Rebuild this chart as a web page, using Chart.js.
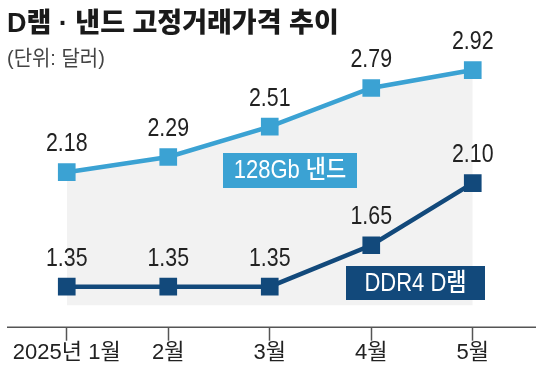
<!DOCTYPE html>
<html>
<script src="https://cdn.jsdelivr.net/npm/chart.js@4.4.1/dist/chart.umd.min.js"></script>
<body style="margin:0;background:#fff">

<canvas id="myChart" width="536" height="371"></canvas>

<script>
    const months = ["2025년 1월", "2월", "3월", "4월", "5월"];
    const nandPrices = [2.18, 2.29, 2.51, 2.79, 2.92];
    const dramPrices = [1.35, 1.35, 1.35, 1.65, 2.10];

    const nandColor = "#3ba2d3";
    const dramColor = "#12497b";
    const numFont = '"Liberation Sans", sans-serif';
    const krFont = '"Liberation Sans", "Noto Sans CJK KR", sans-serif';

    // draw text squeezed horizontally (the original uses a condensed face)
    function narrowText(ctx, text, x, y, sx) {
        ctx.save();
        ctx.translate(x, y);
        ctx.scale(sx, 1);
        ctx.fillText(text, 0, 0);
        ctx.restore();
    }

    // title, value labels, series tags and the long axis line
    const decor = {
        id: "decor",
        beforeDraw(chart) {
            const ctx = chart.ctx;
            const x = chart.scales.x;
            ctx.save();
            ctx.strokeStyle = "#555";
            ctx.lineWidth = 1.5;
            ctx.beginPath();
            ctx.moveTo(7, x.top + 0.5);
            ctx.lineTo(536, x.top + 0.5);
            ctx.stroke();
            ctx.restore();
        },
        afterDraw(chart) {
            const ctx = chart.ctx;
            ctx.save();
            ctx.textAlign = "left";
            ctx.textBaseline = "alphabetic";
            ctx.fillStyle = "#1a1a1a";
            ctx.font = "900 27px " + krFont;
            narrowText(ctx, "D램 · 낸드 고정거래가격 추이", 7, 32, 1.0);
            ctx.fillStyle = "#444";
            ctx.font = "21px " + krFont;
            narrowText(ctx, "(단위: 달러)", 7, 65, 0.95);

            // value labels
            ctx.textAlign = "center";
            ctx.fillStyle = "#222";
            ctx.font = "26px " + numFont;
            chart.data.datasets.forEach((ds, i) => {
                const meta = chart.getDatasetMeta(i);
                meta.data.forEach((pt, j) => {
                    narrowText(ctx, ds.data[j].toFixed(2), pt.x, pt.y - 21, 0.82);
                });
            });

            // series tags
            const tag = (text, color, l, t, w, h) => {
                ctx.fillStyle = color;
                ctx.fillRect(l, t, w, h);
                ctx.fillStyle = "#fff";
                ctx.font = "500 25px " + krFont;
                ctx.textAlign = "center";
                ctx.textBaseline = "middle";
                narrowText(ctx, text, l + w / 2, t + h / 2 + 1, 0.88);
            };
            tag("128Gb 낸드", nandColor, 223, 153, 134, 35);
            tag("DDR4 D램", dramColor, 346, 266, 139, 34);
            ctx.restore();
        }
    };

    const chart = new Chart(document.getElementById("myChart"), {
        type: "line",
        data: {
            labels: months,
            datasets: [{
                data: nandPrices,
                borderColor: nandColor,
                backgroundColor: "#f2f2f2",
                pointBackgroundColor: nandColor,
                fill: { value: 1.215 },
                borderWidth: 4.5,
                pointStyle: "rect",
                pointRadius: 12.5,
                pointBorderWidth: 0,
                tension: 0
            }, {
                data: dramPrices,
                borderColor: dramColor,
                pointBackgroundColor: dramColor,
                fill: false,
                borderWidth: 4.5,
                pointStyle: "rect",
                pointRadius: 12.5,
                pointBorderWidth: 0,
                tension: 0
            }]
        },
        options: {
            responsive: false,
            animation: false,
            layout: { padding: { top: 59, left: 16, right: 12, bottom: 5 } },
            plugins: {
                legend: { display: false },
                tooltip: { enabled: false },
                filler: { drawTime: "beforeDatasetsDraw", propagate: false }
            },
            scales: {
                x: {
                    offset: true,
                    border: { display: false },
                    grid: {
                        offset: false,
                        drawOnChartArea: false,
                        tickLength: 14,
                        tickWidth: 1.5,
                        tickColor: "#555"
                    },
                    ticks: {
                        padding: 0,
                        color: "#222",
                        maxRotation: 0,
                        autoSkip: false,
                        font: { family: krFont, size: 22, lineHeight: 1.15 }
                    }
                },
                y: {
                    display: false,
                    min: 1.06,
                    max: 3.0
                }
            }
        },
        plugins: [decor]
    });
</script>

</body>
</html>
